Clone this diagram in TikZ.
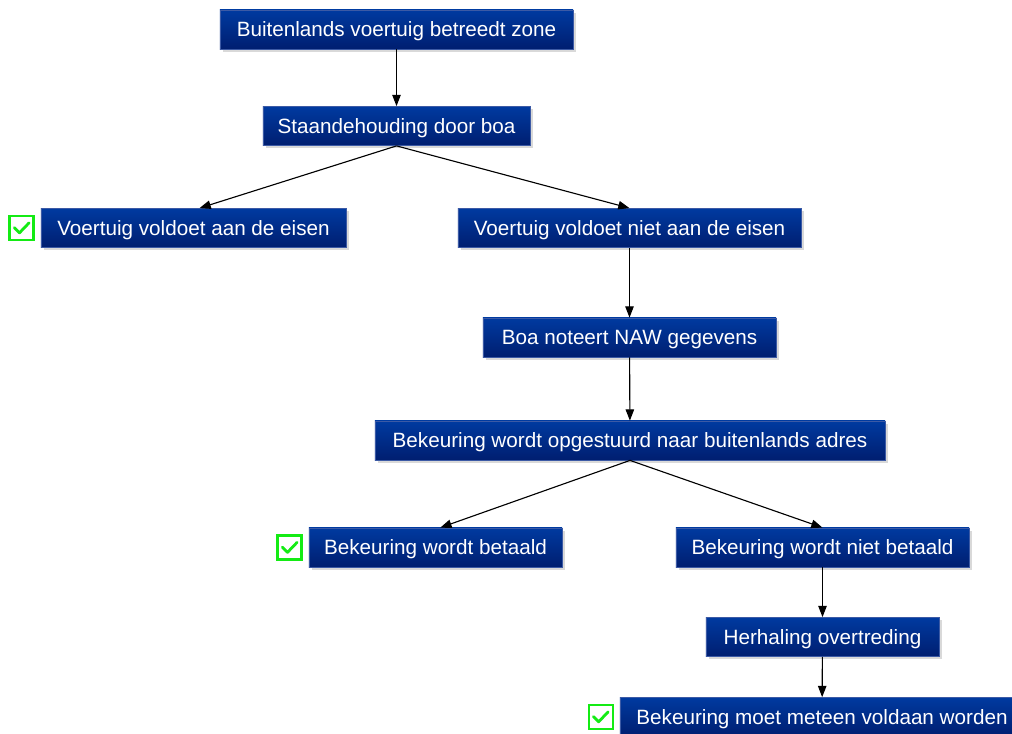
\documentclass[tikz,border=0pt]{standalone}
\usepackage{fontspec}
\setmainfont{Liberation Sans}
\usepackage{xcolor}
\usepackage{tikz}
\usetikzlibrary{arrows.meta,positioning,shadows}
\definecolor{boxtop}{RGB}{0,58,160}
\definecolor{boxbot}{RGB}{0,30,112}
\definecolor{boxline}{RGB}{60,90,165}
\definecolor{okgreen}{RGB}{20,235,20}
\begin{document}
\begin{tikzpicture}[x=0.025cm, y=-0.025cm,
    stap/.style={draw=boxline, line width=0.4pt, top color=boxtop, bottom color=boxbot, text=white, minimum height=0.98cm, inner sep=2pt, text height=10.5pt, text depth=0pt, font=\fontsize{14.7}{17}\selectfont, drop shadow={shadow xshift=2pt, shadow yshift=-2pt, opacity=0.3}},
    vink/.style={draw=okgreen, line width=1.5pt, fill=white, minimum size=0.6cm, inner sep=0pt, left=0.15cm of #1,
      path picture={\draw[okgreen, line width=2pt, line cap=round, line join=round] ([shift={(-0.18cm,0.01cm)}]path picture bounding box.center) -- ([shift={(-0.05cm,-0.12cm)}]path picture bounding box.center) -- ([shift={(0.19cm,0.13cm)}]path picture bounding box.center);}},
    pijl/.style={-{Triangle[length=8pt, width=6pt]}, line width=0.8pt}]
  \clip (0,0) rectangle (1012,733);
  \node[stap, minimum width=8.83cm] (zone) at (396.5,29.5) {Buitenlands voertuig betreedt zone};
  \node[stap, minimum width=6.68cm] (stop) at (396.5,126) {Staandehouding door boa};
  \node[stap, minimum width=7.63cm] (ok) at (193.5,228) {Voertuig voldoet aan de eisen};
  \node[stap, minimum width=8.58cm] (nok) at (629.5,228) {Voertuig voldoet niet aan de eisen};
  \node[stap, minimum width=7.33cm] (naw) at (629.5,337.5) {Boa noteert NAW gegevens};
  \node[stap, minimum width=12.75cm] (post) at (630,440.5) {Bekeuring wordt opgestuurd naar buitenlands adres};
  \node[stap, minimum width=6.33cm] (paid) at (435.5,547.5) {Bekeuring wordt betaald};
  \node[stap, minimum width=7.33cm] (unpaid) at (822.5,547.5) {Bekeuring wordt niet betaald};
  \node[stap, minimum width=5.83cm] (again) at (822.5,637) {Herhaling overtreding};
  \node[stap, minimum width=10.1cm] (direct) at (822,717) {Bekeuring moet meteen voldaan worden};
  \node[vink=ok] (vok) {};
  \node[vink=paid] (vpaid) {};
  \node[vink=direct] (vdirect) {};
  \draw[pijl] (zone) -- (stop);
  \draw[pijl] (stop.south) -- ([xshift=0.15cm]ok.north);
  \draw[pijl] (stop.south) -- (nok.north);
  \draw[pijl] (nok) -- (naw);
  \draw[pijl] (naw) -- (post);
  \draw[pijl] (post.south) -- ([xshift=0.12cm]paid.north);
  \draw[pijl] (post.south) -- (unpaid.north);
  \draw[pijl] (unpaid) -- (again);
  \draw[pijl] (again) -- (direct);
\end{tikzpicture}
\end{document}
